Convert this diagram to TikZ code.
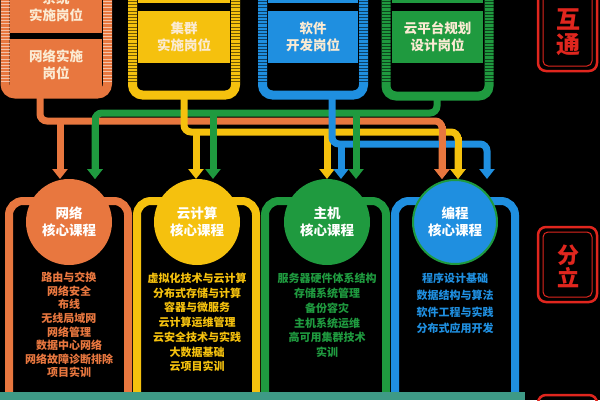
\documentclass[tikz,border=0pt]{standalone}
\usepackage{fontspec}
\newfontfamily\cjk{Noto Sans CJK SC}
\usetikzlibrary{arrows.meta,calc}
\definecolor{cOr}{HTML}{E8773F}
\definecolor{cYe}{HTML}{F5C10E}
\definecolor{cGr}{HTML}{1F9A3F}
\definecolor{cBl}{HTML}{1F8FE0}
\definecolor{cTe}{HTML}{3E9A86}
\definecolor{cRe}{HTML}{E0261E}
\definecolor{cCream}{HTML}{FBEBD3}
\tikzset{
  pipe/.style={line width=7pt, rounded corners=7pt, draw=#1},
  arrowtip/.style={-{Triangle[width=15pt,length=10pt]}},
  topframe/.style={line width=9pt, rounded corners=10pt, draw=#1},
  stripes/.style={line width=9pt, draw=#1, dash pattern=on 1pt off 2.2pt, opacity=.55},
  jobbox/.style={minimum width=92pt, minimum height=52pt, inner sep=0pt,
    font=\cjk\bfseries\fontsize{13.5}{17}\selectfont, text=cCream, align=center},
  course/.style={circle, minimum size=84pt, inner sep=0pt, line width=2pt,
    font=\cjk\bfseries\fontsize{13.5}{16.5}\selectfont, text=white, align=center},
  botframe/.style={line width=8pt, rounded corners=14pt, draw=#1},
  coursetext/.style={font=\cjk\bfseries\fontsize{11}{#1}\selectfont, align=center, inner sep=0pt},
  redbox/.style={draw=cRe, line width=2.5pt, rounded corners=8pt},
  redinner/.style={draw=cRe, line width=1pt, rounded corners=5pt},
  redtext/.style={text=cRe, font=\cjk\bfseries\fontsize{24}{25}\selectfont, align=center, inner sep=0pt}
}
\begin{document}
\begin{tikzpicture}[x=1pt,y=-1pt]
\useasboundingbox (0,0) rectangle (600,400);
\clip (0,0) rectangle (600,400);
\fill[black] (0,0) rectangle (600,400);

% ---------- top frames ----------
\foreach \xl/\xr/\yb/\col/\sc in {5/107.5/94/cOr/white, 132.5/235.5/95/cYe/black, 262.5/363.5/95/cBl/black, 386/489/96/cGr/black} {
  \draw[topframe=\col] (\xl,-15) -- (\xl,\yb) -- (\xr,\yb) -- (\xr,-15);
  \draw[stripes=\sc] (\xl,-15) -- (\xl,\yb-12);
  \draw[stripes=\sc] (\xr,-15) -- (\xr,\yb-12);
}

% ---------- job boxes ----------
\node[jobbox, fill=cOr, minimum height=53pt] (sysJob) at (56,6.5) {系统\\实施岗位};
\node[jobbox, fill=cOr, minimum height=51pt] (netJob) at (56,64.5) {网络实施\\岗位};
\fill[cYe] (138,-10) rectangle (230,3);
\node[jobbox, fill=cYe] (cluJob) at (184,37) {集群\\实施岗位};
\fill[cBl] (268,-10) rectangle (358,3);
\node[jobbox, fill=cBl, minimum width=90pt] (swJob) at (313,37) {软件\\开发岗位};
\fill[cGr] (392,-10) rectangle (483,3);
\node[jobbox, fill=cGr, minimum width=91pt] (cloudJob) at (437.5,37) {云平台规划\\设计岗位};

% ---------- red labels ----------
\draw[redbox] (538,-10) rectangle (597,71);
\draw[redinner] (543,-10) rectangle (592,66);
\node[redtext] (lblTop) at (568,32) {互\\通};
\draw[redbox] (538,227) rectangle (597,302);
\draw[redinner] (543,232) rectangle (592,297);
\node[redtext, font=\cjk\bfseries\fontsize{22}{23}\selectfont] (lblBot) at (568,266) {分\\立};
\draw[redbox] (538,395) rectangle (597,440);

% ---------- bottom frames ----------
\draw[botframe=cOr] (9,396) -- (9,201) -- (128,201) -- (128,396);
\draw[botframe=cYe] (137,396) -- (137,201) -- (256,201) -- (256,396);
\draw[botframe=cGr] (265,396) -- (265,201) -- (386,201) -- (386,396);
\draw[botframe=cBl] (395,396) -- (395,201) -- (515,201) -- (515,396);

% ---------- course circles ----------
\node[course, fill=cOr, draw=cOr] (oC) at (69,222) {网络\\核心课程};
\node[course, fill=cYe, draw=cYe] (yC) at (197,222) {云计算\\核心课程};
\node[course, fill=cGr, draw=cGr] (gC) at (327,222) {主机\\核心课程};
\node[course, fill=cBl, draw=cGr] (bC) at (455,222) {编程\\核心课程};

% ---------- course lists ----------
\node[coursetext=13.6, text=cOr] (oList) at (69,325) {路由与交换\\网络安全\\布线\\无线局域网\\网络管理\\数据中心网络\\网络故障诊断排除\\项目实训};
\node[coursetext=14.7, text=cYe] (yList) at (197,322.5) {虚拟化技术与云计算\\分布式存储与计算\\容器与微服务\\云计算运维管理\\云安全技术与实践\\大数据基础\\云项目实训};
\node[coursetext=14.8, text=cGr] (gList) at (327,315.5) {服务器硬件体系结构\\存储系统管理\\备份容灾\\主机系统运维\\高可用集群技术\\实训};
\node[coursetext=16.7, text=cBl] (bList) at (455,303.5) {程序设计基础\\数据结构与算法\\软件工程与实践\\分布式应用开发};

% ---------- connector anchors ----------
\coordinate (oSrc) at (40,94);
\coordinate (ySrc) at (184,95);
\coordinate (bSrc) at (332,95);
\coordinate (gSrc) at (437,96);
\coordinate (lvG) at (0,113);
\coordinate (lvGb) at (0,117);
\coordinate (lvO) at (0,121);
\coordinate (lvOb) at (0,126);
\coordinate (lvY) at (0,132);
\coordinate (lvYb) at (0,137);
\coordinate (lvB) at (0,144);
\coordinate (eO1) at ([xshift=-9pt]oC.north);
\coordinate (eO2) at ([xshift=26pt]oC.north);
\coordinate (eY1) at ([xshift=-1pt]yC.north);
\coordinate (eY2) at ([xshift=16pt]yC.north);
\coordinate (eG1) at (gC.north);
\coordinate (eG2) at ([xshift=14pt]gC.north);
\coordinate (eG3) at ([xshift=29pt]gC.north);
\coordinate (eB1) at ([xshift=-13pt]bC.north);
\coordinate (eB2) at ([xshift=3pt]bC.north);
\coordinate (eB3) at ([xshift=32pt]bC.north);

% ---------- pipes ----------
\draw[pipe=cGr, arrowtip] (gSrc) -- (gSrc |- lvG) -- (eO2 |- lvG) -- (eO2);
\draw[pipe=cOr, arrowtip] (oSrc) -- (oSrc |- lvO) -- (eB1 |- lvO) -- (eB1);
\draw[pipe=cOr, arrowtip] (eO1 |- lvO) -- (eO1);
\draw[pipe=cYe, arrowtip] (ySrc) -- (ySrc |- lvY) -- (eB2 |- lvY) -- (eB2);
\draw[pipe=cYe, arrowtip] (eY1 |- lvY) -- (eY1);
\draw[pipe=cYe, arrowtip] (eG1 |- lvY) -- (eG1);
\draw[pipe=cBl, arrowtip] (bSrc) -- (bSrc |- lvB) -- (eB3 |- lvB) -- (eB3);
\draw[pipe=cBl, arrowtip] (eG2 |- lvB) -- (eG2);
% crossings on top
\draw[pipe=cOr, arrowtip] (eB1 |- lvOb) -- (eB1);
\draw[pipe=cYe, arrowtip] (eB2 |- lvYb) -- (eB2);
\draw[pipe=cGr, arrowtip] (eO2 |- lvGb) -- (eO2);
\draw[pipe=cGr, arrowtip, line cap=rect] (eY2 |- lvG) -- (eY2);
\draw[pipe=cGr, arrowtip, line cap=rect] (eG3 |- lvG) -- (eG3);

% ---------- base bar ----------
\fill[cTe] (0,392) rectangle (525,400);
\end{tikzpicture}
\end{document}
